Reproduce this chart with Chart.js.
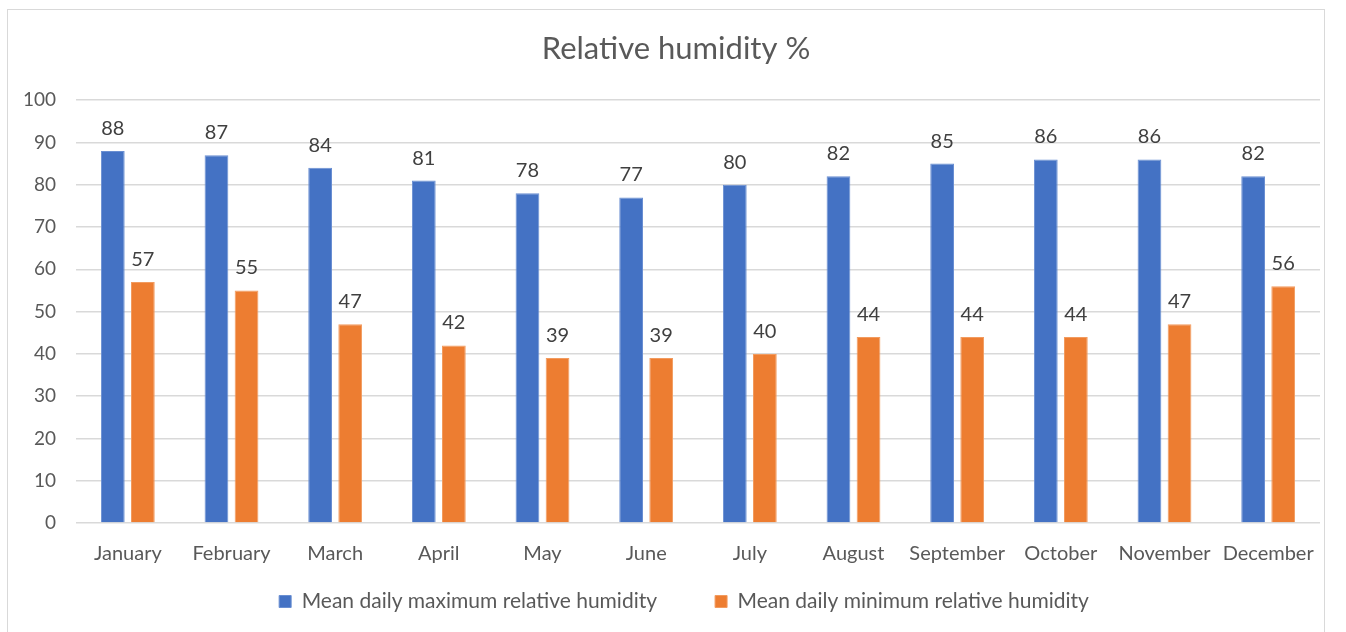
<!DOCTYPE html>
<html>
<head>
<meta charset="utf-8">
<script src="https://cdn.jsdelivr.net/npm/chart.js@4/dist/chart.umd.min.js"></script>
<style>
  html, body { margin: 0; padding: 0; background: #fff; }
  body { width: 1346px; height: 632px; overflow: hidden; position: relative; }
  #frame { position: absolute; left: 7px; top: 9px; width: 1318px; height: 640px; border: 1px solid #d9d9d9; box-sizing: border-box; }
  #wrap { position: absolute; left: 0; top: 0; width: 1346px; height: 632px; }
</style>
</head>
<body>
<div id="frame"></div>
<div id="wrap"><canvas id="humChart"></canvas></div>
<script>
// data
const months = ['January', 'February', 'March', 'April', 'May', 'June', 'July', 'August', 'September', 'October', 'November', 'December'];
const maxHumidity = [88, 87, 84, 81, 78, 77, 80, 82, 85, 86, 86, 82];
const minHumidity = [57, 55, 47, 42, 39, 39, 40, 44, 44, 44, 47, 56];
const yTicks = [0, 10, 20, 30, 40, 50, 60, 70, 80, 90, 100];

const FONT = 'Lato, "Open Sans", sans-serif';

// labels on top of bars (no datalabels plugin available offline)
const barLabels = {
    id: 'barLabels',
    afterDatasetsDraw(chart) {
        const ctx = chart.ctx;
        ctx.save();
        ctx.font = '20px ' + FONT;
        ctx.fillStyle = '#404040';
        ctx.textAlign = 'center';
        ctx.textBaseline = 'alphabetic';
        chart.data.datasets.forEach((ds, i) => {
            chart.getDatasetMeta(i).data.forEach((bar, j) => {
                ctx.fillText(String(ds.data[j]), bar.x, bar.y - 16);
            });
        });
        ctx.restore();
    }
};

// legend padding is also its horizontal spacing, so clamp its height;
// title & legend sit a little right of centre in the original
const layoutTweaks = {
    id: 'layoutTweaks',
    beforeUpdate(chart) {
        const lg = chart.legend;
        if (lg && !lg._patched) {
            const orig = lg.fit;
            lg.fit = function () { orig.call(this); this.height = 87; };
            lg._patched = true;
        }
    },
    afterLayout(chart) {
        if (chart.titleBlock) { chart.titleBlock.left += 16; chart.titleBlock.right += 16; }
        if (chart.legend) { chart.legend.left += 24; chart.legend.right += 24; }
    }
};

new Chart(document.getElementById('humChart'), {
    type: 'bar',
    data: {
        labels: months,
        datasets: [
            { label: 'Mean daily maximum relative humidity', data: maxHumidity, backgroundColor: '#4472C4', borderColor: '#6a8fd2', borderWidth: 1 },
            { label: 'Mean daily minimum relative humidity', data: minHumidity, backgroundColor: '#ED7D31', borderColor: '#f29b5f', borderWidth: 1 }
        ]
    },
    options: {
        responsive: true,
        maintainAspectRatio: false,
        animation: false,
        categoryPercentage: 0.58,
        barPercentage: 0.79,
        layout: { padding: { top: 30, right: 26, bottom: 12, left: 0 } },
        plugins: {
            title: {
                display: true,
                text: 'Relative humidity %',
                color: '#595959',
                font: { family: FONT, size: 31, weight: 'normal' },
                padding: { top: 0, bottom: 33 }
            },
            legend: {
                position: 'bottom',
                labels: {
                    color: '#595959',
                    font: { family: FONT, size: 21 },
                    boxWidth: 12,
                    boxHeight: 12,
                    padding: 58
                }
            },
            tooltip: { enabled: false }
        },
        scales: {
            x: {
                afterFit(scale) {
                    scale.height = 10;
                    scale._computeLabelArea = () => null; // labels hang below the short box
                },
                grid: { display: false },
                border: { display: false },
                ticks: { color: '#595959', font: { family: FONT, size: 20 }, padding: 11, maxRotation: 0 }
            },
            y: {
                min: 0,
                max: 100,
                afterFit(scale) { scale.width = 76; },
                afterBuildTicks(scale) { scale.ticks = yTicks.map(v => ({ value: v })); },
                grid: { color: '#d9d9d9', lineWidth: 1.5, drawTicks: false },
                border: { display: false },
                ticks: { color: '#595959', font: { family: FONT, size: 19 }, padding: 20 }
            }
        }
    },
    plugins: [barLabels, layoutTweaks]
});
</script>
</body>
</html>
